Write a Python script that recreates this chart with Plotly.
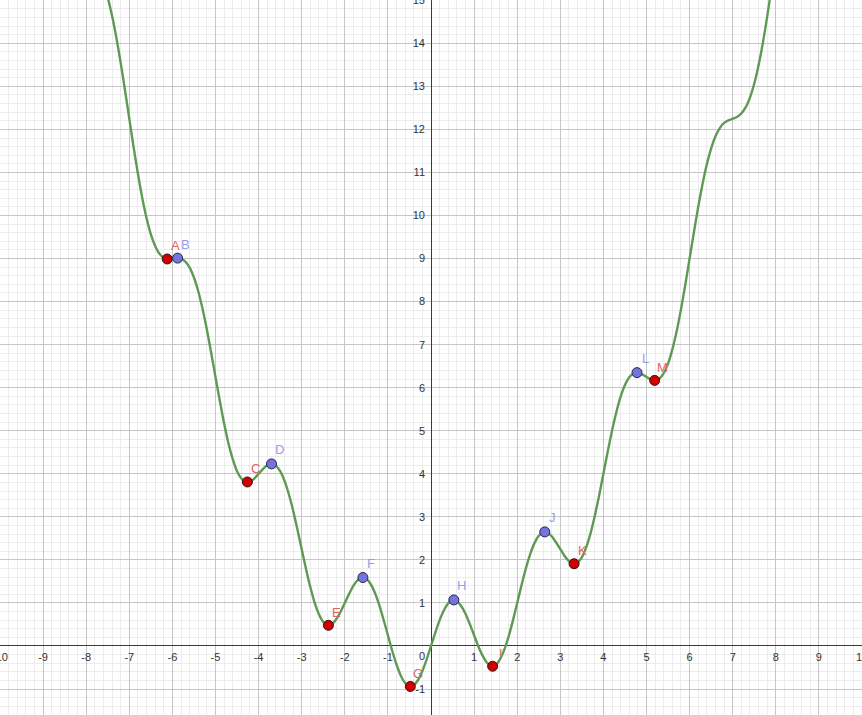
import plotly.graph_objects as go

# Curve samples (x step 0.1)
curve_x = [-7.6, -7.5, -7.4, -7.3, -7.2, -7.1, -7.0, -6.9, -6.8, -6.7, -6.6, -6.5, -6.4, -6.3, -6.2, -6.1,
           -6.0, -5.9, -5.8, -5.7, -5.6, -5.5, -5.4, -5.3, -5.2, -5.1, -5.0, -4.9, -4.8, -4.7, -4.6, -4.5,
           -4.4, -4.3, -4.2, -4.1, -4.0, -3.9, -3.8, -3.7, -3.6, -3.5, -3.4, -3.3, -3.2, -3.1, -3.0, -2.9,
           -2.8, -2.7, -2.6, -2.5, -2.4, -2.3, -2.2, -2.1, -2.0, -1.9, -1.8, -1.7, -1.6, -1.5, -1.4, -1.3,
           -1.2, -1.1, -1.0, -0.9, -0.8, -0.7, -0.6, -0.5, -0.4, -0.3, -0.2, -0.1, 0.0, 0.1, 0.2, 0.3,
           0.4, 0.5, 0.6, 0.7, 0.8, 0.9, 1.0, 1.1, 1.2, 1.3, 1.4, 1.5, 1.6, 1.7, 1.8, 1.9,
           2.0, 2.1, 2.2, 2.3, 2.4, 2.5, 2.6, 2.7, 2.8, 2.9, 3.0, 3.1, 3.2, 3.3, 3.4, 3.5,
           3.6, 3.7, 3.8, 3.9, 4.0, 4.1, 4.2, 4.3, 4.4, 4.5, 4.6, 4.7, 4.8, 4.9, 5.0, 5.1,
           5.2, 5.3, 5.4, 5.5, 5.6, 5.7, 5.8, 5.9, 6.0, 6.1, 6.2, 6.3, 6.4, 6.5, 6.6, 6.7,
           6.8, 6.9, 7.0, 7.1, 7.2, 7.3, 7.4, 7.5, 7.6, 7.7, 7.8, 7.9, 8.0]
curve_y = [15.39, 15.06, 14.64, 14.13, 13.55, 12.91, 12.25, 11.59, 10.97, 10.41, 9.94, 9.56, 9.29, 9.11, 9.02, 8.99,
           9.00, 9.01, 9.00, 8.93, 8.79, 8.56, 8.24, 7.83, 7.35, 6.81, 6.25, 5.69, 5.17, 4.71, 4.34, 4.06,
           3.89, 3.81, 3.82, 3.89, 4.00, 4.11, 4.20, 4.23, 4.19, 4.06, 3.84, 3.53, 3.15, 2.71, 2.25, 1.79,
           1.37, 1.01, 0.74, 0.56, 0.49, 0.51, 0.62, 0.79, 1.00, 1.21, 1.40, 1.53, 1.59, 1.56, 1.44, 1.23,
           0.95, 0.61, 0.25, -0.11, -0.43, -0.69, -0.86, -0.94, -0.91, -0.79, -0.58, -0.31, 0.00, 0.31, 0.60, 0.83,
           0.99, 1.06, 1.04, 0.93, 0.75, 0.51, 0.25, -0.01, -0.23, -0.39, -0.46, -0.44, -0.31, -0.09, 0.22, 0.59,
           1.00, 1.41, 1.80, 2.13, 2.39, 2.56, 2.64, 2.63, 2.55, 2.41, 2.25, 2.09, 1.97, 1.91, 1.94, 2.06,
           2.29, 2.61, 3.02, 3.49, 4.00, 4.51, 5.00, 5.43, 5.79, 6.06, 6.24, 6.33, 6.35, 6.31, 6.25, 6.19,
           6.17, 6.21, 6.34, 6.56, 6.89, 7.31, 7.82, 8.39, 9.00, 9.61, 10.20, 10.73, 11.19, 11.56, 11.84, 12.03,
           12.15, 12.21, 12.25, 12.29, 12.37, 12.51, 12.74, 13.06, 13.49, 14.01, 14.62, 15.29, 16.00]

# Local minima (red) and maxima (blue)
min_names = ["A", "C", "E", "G", "I", "K", "M"]
min_x = [-6.12, -4.26, -2.38, -0.48, 1.43, 3.32, 5.19]
min_y = [8.99, 3.81, 0.48, -0.94, -0.47, 1.91, 6.17]
max_names = ["B", "D", "F", "H", "J", "L"]
max_x = [-5.88, -3.70, -1.58, 0.53, 2.64, 4.78]
max_y = [9.01, 4.23, 1.59, 1.07, 2.65, 6.35]

# Axis tick labels
x_tick_vals = [-10, -9, -8, -7, -6, -5, -4, -3, -2, -1, 1, 2, 3, 4, 5, 6, 7, 8, 9, 10]
x_tick_text = ["-10", "-9", "-8", "-7", "-6", "-5", "-4", "-3", "-2", "-1",
               "1", "2", "3", "4", "5", "6", "7", "8", "9", "10"]
y_tick_vals = [-1, 1, 2, 3, 4, 5, 6, 7, 8, 9, 10, 11, 12, 13, 14, 15]
y_tick_text = ["-1", "1", "2", "3", "4", "5", "6", "7", "8", "9", "10", "11", "12", "13", "14", "15"]

X_RANGE = [-10.0, 10.0]
Y_RANGE = [-1.603, 15.006]

FONT = "Liberation Sans, Arial, sans-serif"

fig = go.Figure()
fig.add_trace(go.Scatter(x=curve_x, y=curve_y, mode="lines",
                         line=dict(color="#5f9a55", width=2.4, shape="spline", smoothing=0.6),
                         hoverinfo="skip", showlegend=False))
fig.add_trace(go.Scatter(x=min_x, y=min_y, mode="markers",
                         marker=dict(size=10, color="#d00000", line=dict(color="#3a1010", width=1)),
                         showlegend=False))
fig.add_trace(go.Scatter(x=max_x, y=max_y, mode="markers",
                         marker=dict(size=10, color="#7474dc", line=dict(color="#26264a", width=1)),
                         showlegend=False))

annotations = []
for n, xv, yv in zip(min_names, min_x, min_y):
    annotations.append(dict(x=xv, y=yv, text=n, showarrow=False, xshift=8, yshift=13,
                            font=dict(family=FONT, size=13, color="#e06464")))
for n, xv, yv in zip(max_names, max_x, max_y):
    annotations.append(dict(x=xv, y=yv, text=n, showarrow=False, xshift=8, yshift=14,
                            font=dict(family=FONT, size=13, color="#9c9ce8")))
annotations.append(dict(x=0, y=0, text="0", showarrow=False, xshift=-9, yshift=-10,
                        font=dict(family=FONT, size=11, color="#333333")))

x_pos = (0 - Y_RANGE[0]) / (Y_RANGE[1] - Y_RANGE[0])
y_pos = (0 - X_RANGE[0]) / (X_RANGE[1] - X_RANGE[0])

fig.update_layout(
    width=862, height=715,
    margin=dict(l=0, r=0, t=0, b=0, pad=0, autoexpand=False),
    paper_bgcolor="white", plot_bgcolor="white",
    annotations=annotations,
    xaxis=dict(range=X_RANGE, tickmode="array", tickvals=x_tick_vals, ticktext=x_tick_text,
               showgrid=True, gridcolor="#c6c6c6", gridwidth=1,
               minor=dict(tickmode="linear", tick0=0, dtick=0.2, showgrid=True,
                          gridcolor="#ececec", gridwidth=1),
               zeroline=True, zerolinecolor="#3a3a3a", zerolinewidth=1.2,
               anchor="free", position=x_pos, ticks="", showline=False,
               automargin=False,
               ticklabeloverflow="allow", ticklabelstandoff=3,
               tickfont=dict(family=FONT, size=11, color="#333333"),
               fixedrange=True),
    yaxis=dict(range=Y_RANGE, tickmode="array", tickvals=y_tick_vals, ticktext=y_tick_text,
               showgrid=True, gridcolor="#c6c6c6", gridwidth=1,
               minor=dict(tickmode="linear", tick0=0, dtick=0.2, showgrid=True,
                          gridcolor="#ececec", gridwidth=1),
               zeroline=True, zerolinecolor="#3a3a3a", zerolinewidth=1.2,
               anchor="free", position=y_pos, ticks="", showline=False,
               automargin=False,
               ticklabeloverflow="allow", ticklabelstandoff=6,
               tickfont=dict(family=FONT, size=11, color="#333333"),
               fixedrange=True),
    showlegend=False,
)

fig.write_html("out.html", config={"displayModeBar": False},
               post_script="document.body.style.margin='0';document.body.style.padding='0';")
